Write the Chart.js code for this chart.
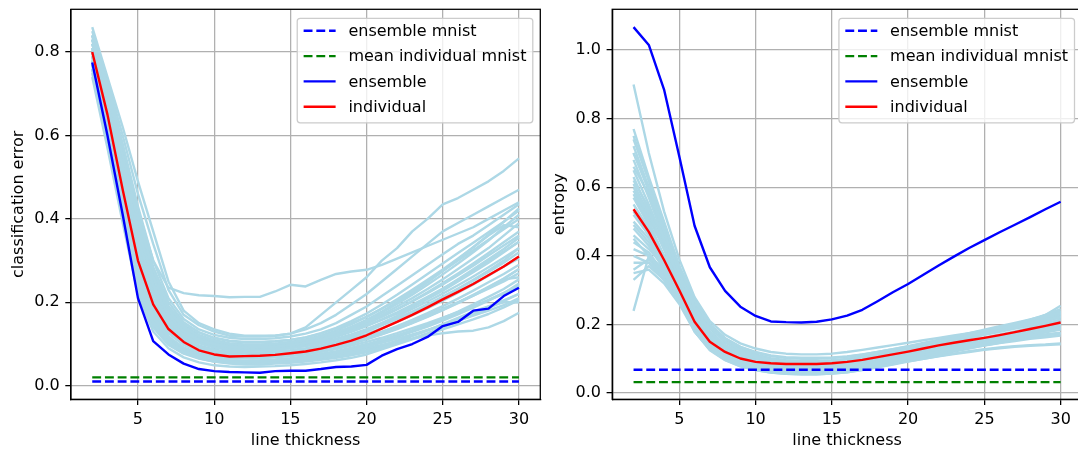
<!DOCTYPE html>
<html>
<head>
<meta charset="utf-8">
<script src="https://cdn.jsdelivr.net/npm/chart.js@4"></script>
<style>
  html, body { margin: 0; padding: 0; background: #fff; overflow: hidden; width: 1078px; height: 450px; }
  #left { position: absolute; left: 0; top: 0; }
  #right { position: absolute; left: 545px; top: 0; }
</style>
</head>
<body>
<canvas id="left" width="545" height="450"></canvas>
<canvas id="right" width="545" height="450"></canvas>
<script>
// x values (line thickness) and tick labels
const thickness = [2,3,4,5,6,7,8,9,10,11,12,13,14,15,16,17,18,19,20,21,22,23,24,25,26,27,28,29,30];
const mnistRange = [2, 30];
const xTicks = [5, 10, 15, 20, 25, 30];
const errorTicks = [0, 0.2, 0.4, 0.6, 0.8];
const entropyTicks = [0, 0.2, 0.4, 0.6, 0.8, 1.0];

// left panel: classification error
const errorEnsembleMnist = [0.01, 0.01];
const errorIndividualMnist = [0.02, 0.02];
const errorEnsemble = [0.775,0.60,0.41,0.21,0.107,0.075,0.053,0.040,0.035,0.033,0.032,0.031,0.035,0.036,0.036,0.040,0.045,0.046,0.050,0.072,0.088,0.100,0.117,0.143,0.153,0.180,0.185,0.215,0.235];
const errorIndividual = [0.80,0.65,0.47,0.30,0.195,0.136,0.105,0.085,0.075,0.070,0.071,0.072,0.074,0.078,0.082,0.089,0.098,0.108,0.121,0.137,0.153,0.170,0.188,0.207,0.225,0.244,0.265,0.286,0.310];
const errorModels = [
  [0.83,0.72,0.58,0.43,0.30,0.235,0.222,0.217,0.215,0.212,0.213,0.213,0.226,0.242,0.238,0.254,0.268,0.274,0.278,0.29,0.305,0.32,0.335,0.35,0.365,0.38,0.40,0.42,0.44],
  [0.86,0.74,0.62,0.49,0.37,0.25,0.18,0.15,0.135,0.125,0.12,0.12,0.12,0.125,0.14,0.17,0.20,0.23,0.26,0.30,0.33,0.37,0.40,0.435,0.45,0.47,0.49,0.515,0.545],
  [0.85,0.73,0.60,0.46,0.34,0.23,0.17,0.145,0.13,0.12,0.118,0.118,0.12,0.125,0.135,0.15,0.17,0.195,0.22,0.25,0.28,0.31,0.34,0.37,0.39,0.41,0.43,0.45,0.47],
  [0.84,0.71,0.57,0.42,0.30,0.21,0.16,0.135,0.122,0.115,0.112,0.112,0.114,0.118,0.125,0.135,0.15,0.17,0.19,0.215,0.24,0.265,0.29,0.315,0.34,0.36,0.385,0.41,0.435],
  [0.83,0.70,0.55,0.40,0.28,0.19,0.15,0.128,0.115,0.108,0.105,0.105,0.107,0.11,0.116,0.125,0.137,0.15,0.165,0.185,0.205,0.225,0.25,0.275,0.3,0.325,0.35,0.375,0.40],
  [0.82,0.68,0.53,0.37,0.26,0.18,0.14,0.12,0.108,0.1,0.098,0.098,0.1,0.104,0.11,0.118,0.128,0.14,0.155,0.17,0.19,0.21,0.232,0.255,0.28,0.305,0.33,0.36,0.39],
  [0.81,0.67,0.51,0.35,0.24,0.17,0.13,0.11,0.099,0.093,0.091,0.092,0.094,0.098,0.103,0.11,0.12,0.131,0.144,0.158,0.173,0.19,0.208,0.228,0.25,0.272,0.295,0.32,0.345],
  [0.80,0.66,0.49,0.33,0.22,0.155,0.12,0.102,0.092,0.086,0.084,0.085,0.087,0.09,0.095,0.102,0.111,0.121,0.133,0.147,0.162,0.178,0.195,0.213,0.232,0.252,0.273,0.295,0.32],
  [0.80,0.65,0.48,0.31,0.205,0.145,0.112,0.095,0.085,0.08,0.079,0.08,0.082,0.085,0.09,0.097,0.106,0.117,0.13,0.145,0.16,0.176,0.194,0.213,0.233,0.254,0.276,0.3,0.33],
  [0.79,0.64,0.46,0.29,0.19,0.135,0.105,0.089,0.08,0.075,0.074,0.075,0.077,0.08,0.084,0.09,0.098,0.107,0.117,0.129,0.142,0.156,0.17,0.185,0.2,0.216,0.233,0.25,0.27],
  [0.78,0.62,0.44,0.27,0.175,0.125,0.098,0.083,0.074,0.07,0.069,0.07,0.072,0.075,0.079,0.085,0.093,0.102,0.112,0.124,0.137,0.151,0.166,0.182,0.199,0.217,0.236,0.256,0.28],
  [0.77,0.61,0.43,0.26,0.165,0.117,0.092,0.078,0.07,0.066,0.065,0.066,0.068,0.071,0.075,0.081,0.088,0.096,0.105,0.115,0.126,0.138,0.15,0.163,0.176,0.19,0.205,0.22,0.235],
  [0.76,0.59,0.41,0.24,0.15,0.105,0.082,0.07,0.063,0.059,0.058,0.059,0.061,0.064,0.068,0.073,0.079,0.086,0.094,0.103,0.113,0.123,0.134,0.145,0.156,0.168,0.18,0.193,0.21],
  [0.75,0.58,0.40,0.23,0.14,0.098,0.077,0.065,0.058,0.055,0.055,0.056,0.058,0.061,0.064,0.069,0.075,0.082,0.09,0.098,0.106,0.113,0.12,0.126,0.13,0.132,0.14,0.155,0.175],
  [0.74,0.57,0.39,0.22,0.13,0.09,0.068,0.056,0.049,0.046,0.045,0.046,0.047,0.049,0.052,0.056,0.061,0.067,0.075,0.087,0.099,0.111,0.123,0.135,0.147,0.159,0.172,0.188,0.205],
  [0.76,0.60,0.42,0.25,0.155,0.108,0.084,0.071,0.063,0.058,0.056,0.056,0.058,0.06,0.063,0.067,0.072,0.078,0.085,0.096,0.108,0.12,0.133,0.146,0.16,0.175,0.19,0.205,0.22],
  [0.82,0.69,0.53,0.36,0.245,0.17,0.132,0.112,0.1,0.094,0.092,0.093,0.095,0.099,0.105,0.113,0.123,0.135,0.149,0.165,0.183,0.202,0.222,0.243,0.265,0.288,0.312,0.336,0.36],
  [0.83,0.70,0.54,0.38,0.265,0.185,0.142,0.12,0.107,0.1,0.097,0.097,0.099,0.103,0.108,0.116,0.127,0.14,0.156,0.175,0.196,0.218,0.242,0.267,0.293,0.32,0.348,0.38,0.41],
  [0.81,0.66,0.50,0.34,0.23,0.162,0.125,0.106,0.095,0.089,0.087,0.088,0.09,0.093,0.098,0.104,0.112,0.122,0.133,0.146,0.16,0.175,0.191,0.208,0.226,0.245,0.265,0.286,0.31],
  [0.79,0.63,0.45,0.28,0.18,0.13,0.1,0.085,0.077,0.072,0.071,0.072,0.074,0.077,0.081,0.087,0.094,0.103,0.113,0.125,0.138,0.152,0.167,0.183,0.2,0.218,0.237,0.257,0.28],
  [0.84,0.72,0.57,0.41,0.285,0.2,0.152,0.128,0.114,0.107,0.104,0.104,0.106,0.11,0.116,0.126,0.139,0.155,0.173,0.195,0.218,0.243,0.268,0.293,0.318,0.343,0.368,0.393,0.42],
  [0.78,0.63,0.45,0.27,0.17,0.118,0.09,0.075,0.066,0.061,0.06,0.061,0.063,0.066,0.07,0.076,0.083,0.091,0.1,0.11,0.121,0.133,0.146,0.16,0.175,0.19,0.206,0.223,0.24],
  [0.77,0.60,0.42,0.25,0.158,0.11,0.085,0.072,0.064,0.06,0.059,0.06,0.062,0.065,0.069,0.074,0.081,0.089,0.098,0.108,0.12,0.133,0.147,0.162,0.178,0.195,0.213,0.232,0.255],
  [0.79,0.64,0.47,0.30,0.195,0.138,0.107,0.09,0.08,0.075,0.073,0.073,0.075,0.078,0.082,0.088,0.096,0.105,0.116,0.129,0.143,0.158,0.174,0.191,0.209,0.228,0.248,0.268,0.29],
  [0.80,0.66,0.49,0.32,0.21,0.15,0.116,0.097,0.087,0.081,0.079,0.079,0.081,0.084,0.088,0.094,0.102,0.112,0.124,0.138,0.153,0.169,0.186,0.204,0.223,0.243,0.264,0.286,0.305],
  [0.81,0.67,0.51,0.34,0.225,0.158,0.122,0.103,0.092,0.086,0.084,0.085,0.087,0.091,0.096,0.103,0.112,0.123,0.136,0.151,0.167,0.184,0.202,0.221,0.241,0.262,0.284,0.307,0.33],
  [0.82,0.69,0.53,0.37,0.25,0.175,0.135,0.113,0.101,0.095,0.093,0.094,0.096,0.1,0.106,0.114,0.124,0.136,0.15,0.166,0.184,0.203,0.224,0.246,0.269,0.293,0.318,0.344,0.37],
  [0.78,0.62,0.44,0.26,0.165,0.115,0.088,0.073,0.064,0.059,0.057,0.057,0.059,0.062,0.066,0.072,0.079,0.087,0.096,0.106,0.117,0.129,0.142,0.156,0.171,0.187,0.204,0.222,0.245],
  [0.76,0.59,0.41,0.24,0.145,0.1,0.078,0.066,0.058,0.053,0.051,0.051,0.053,0.055,0.058,0.062,0.067,0.073,0.08,0.09,0.101,0.113,0.126,0.14,0.155,0.17,0.186,0.203,0.22],
  [0.83,0.71,0.56,0.40,0.275,0.19,0.145,0.122,0.109,0.102,0.099,0.099,0.101,0.105,0.111,0.12,0.132,0.147,0.165,0.185,0.207,0.23,0.254,0.279,0.305,0.332,0.36,0.385,0.38],
  [0.80,0.65,0.48,0.31,0.2,0.14,0.108,0.091,0.082,0.077,0.076,0.077,0.079,0.082,0.087,0.094,0.104,0.116,0.131,0.148,0.167,0.188,0.21,0.232,0.255,0.279,0.303,0.328,0.355],
  [0.79,0.63,0.46,0.29,0.185,0.13,0.1,0.084,0.075,0.07,0.068,0.068,0.07,0.073,0.077,0.083,0.091,0.1,0.111,0.123,0.136,0.15,0.165,0.181,0.198,0.216,0.235,0.255,0.26],
  [0.77,0.61,0.43,0.255,0.16,0.112,0.086,0.072,0.063,0.058,0.056,0.056,0.057,0.059,0.062,0.066,0.071,0.077,0.084,0.094,0.106,0.119,0.133,0.148,0.163,0.178,0.19,0.2,0.2],
  [0.84,0.70,0.55,0.39,0.27,0.185,0.14,0.117,0.104,0.097,0.094,0.094,0.096,0.1,0.106,0.115,0.127,0.141,0.158,0.178,0.2,0.223,0.248,0.275,0.303,0.332,0.362,0.393,0.425],
  [0.81,0.68,0.52,0.36,0.24,0.168,0.128,0.108,0.096,0.09,0.088,0.089,0.091,0.095,0.1,0.107,0.117,0.129,0.143,0.159,0.176,0.194,0.213,0.233,0.254,0.276,0.299,0.322,0.345]
];

// right panel: entropy
const entropyEnsembleMnist = [0.068, 0.068];
const entropyIndividualMnist = [0.032, 0.032];
const entropyEnsemble = [1.067,1.015,0.885,0.69,0.488,0.367,0.298,0.252,0.225,0.209,0.207,0.206,0.208,0.215,0.226,0.243,0.268,0.294,0.318,0.345,0.372,0.398,0.423,0.446,0.469,0.491,0.513,0.536,0.558];
const entropyIndividual = [0.536,0.470,0.388,0.300,0.208,0.150,0.120,0.101,0.091,0.087,0.085,0.085,0.085,0.087,0.091,0.097,0.105,0.113,0.121,0.130,0.139,0.147,0.154,0.161,0.169,0.178,0.187,0.196,0.206];
const entropyModels = [
  [0.90,0.70,0.53,0.39,0.28,0.21,0.17,0.145,0.13,0.12,0.115,0.113,0.113,0.115,0.12,0.126,0.133,0.14,0.147,0.154,0.161,0.168,0.175,0.182,0.19,0.198,0.206,0.214,0.222],
  [0.77,0.63,0.50,0.37,0.27,0.20,0.16,0.135,0.12,0.11,0.105,0.103,0.103,0.104,0.107,0.113,0.12,0.128,0.136,0.144,0.152,0.16,0.168,0.176,0.184,0.192,0.2,0.21,0.225],
  [0.24,0.40,0.35,0.28,0.20,0.145,0.115,0.095,0.083,0.075,0.071,0.069,0.069,0.07,0.073,0.079,0.087,0.095,0.103,0.112,0.121,0.13,0.138,0.146,0.153,0.161,0.169,0.177,0.185],
  [0.72,0.60,0.47,0.35,0.25,0.18,0.14,0.118,0.104,0.096,0.092,0.09,0.09,0.092,0.096,0.102,0.11,0.119,0.128,0.137,0.146,0.155,0.164,0.173,0.182,0.191,0.2,0.21,0.22],
  [0.68,0.57,0.45,0.33,0.23,0.165,0.13,0.108,0.094,0.086,0.082,0.08,0.08,0.082,0.086,0.092,0.1,0.108,0.117,0.126,0.135,0.144,0.153,0.162,0.171,0.18,0.19,0.2,0.21],
  [0.63,0.53,0.42,0.31,0.21,0.15,0.118,0.098,0.085,0.078,0.074,0.072,0.072,0.074,0.078,0.084,0.091,0.099,0.108,0.117,0.126,0.135,0.144,0.153,0.162,0.171,0.18,0.19,0.2],
  [0.58,0.50,0.40,0.30,0.205,0.145,0.112,0.092,0.08,0.072,0.068,0.066,0.066,0.068,0.072,0.078,0.086,0.095,0.104,0.113,0.122,0.131,0.14,0.149,0.158,0.166,0.174,0.182,0.19],
  [0.53,0.46,0.38,0.29,0.19,0.135,0.104,0.086,0.074,0.066,0.062,0.06,0.06,0.062,0.066,0.072,0.08,0.088,0.097,0.106,0.115,0.124,0.133,0.142,0.15,0.157,0.164,0.17,0.175],
  [0.48,0.43,0.36,0.28,0.18,0.125,0.096,0.078,0.067,0.06,0.056,0.055,0.055,0.057,0.061,0.067,0.075,0.083,0.092,0.1,0.108,0.115,0.122,0.128,0.133,0.137,0.14,0.142,0.145],
  [0.44,0.41,0.35,0.28,0.19,0.13,0.1,0.082,0.07,0.063,0.059,0.058,0.058,0.06,0.064,0.07,0.078,0.087,0.096,0.105,0.114,0.123,0.131,0.139,0.146,0.152,0.158,0.163,0.168],
  [0.40,0.38,0.33,0.27,0.185,0.13,0.1,0.083,0.072,0.065,0.061,0.06,0.06,0.062,0.066,0.073,0.081,0.09,0.1,0.11,0.12,0.13,0.14,0.15,0.16,0.17,0.18,0.19,0.2],
  [0.36,0.39,0.34,0.28,0.2,0.14,0.108,0.09,0.078,0.07,0.066,0.064,0.064,0.066,0.07,0.077,0.085,0.094,0.103,0.113,0.123,0.133,0.143,0.153,0.163,0.173,0.183,0.193,0.205],
  [0.33,0.37,0.33,0.27,0.19,0.135,0.105,0.088,0.077,0.07,0.067,0.066,0.066,0.068,0.072,0.078,0.086,0.095,0.104,0.114,0.124,0.134,0.145,0.156,0.167,0.178,0.19,0.202,0.215],
  [0.66,0.58,0.47,0.36,0.27,0.2,0.16,0.135,0.118,0.108,0.102,0.1,0.1,0.102,0.106,0.112,0.12,0.128,0.137,0.146,0.155,0.164,0.173,0.182,0.192,0.202,0.214,0.228,0.245],
  [0.60,0.52,0.43,0.34,0.25,0.19,0.15,0.125,0.108,0.098,0.093,0.091,0.091,0.093,0.097,0.104,0.112,0.121,0.131,0.141,0.151,0.161,0.171,0.181,0.191,0.201,0.211,0.222,0.235],
  [0.55,0.48,0.40,0.32,0.23,0.17,0.135,0.112,0.098,0.089,0.084,0.082,0.082,0.084,0.088,0.095,0.103,0.112,0.121,0.131,0.141,0.151,0.161,0.171,0.183,0.196,0.21,0.228,0.255],
  [0.70,0.59,0.46,0.34,0.24,0.17,0.13,0.108,0.094,0.085,0.08,0.078,0.078,0.08,0.085,0.093,0.102,0.112,0.122,0.132,0.142,0.152,0.162,0.172,0.182,0.19,0.197,0.203,0.21],
  [0.50,0.45,0.38,0.30,0.21,0.15,0.115,0.094,0.081,0.073,0.069,0.067,0.067,0.069,0.072,0.076,0.081,0.087,0.093,0.1,0.107,0.114,0.12,0.126,0.131,0.135,0.138,0.14,0.142],
  [0.42,0.40,0.36,0.29,0.2,0.145,0.11,0.09,0.077,0.069,0.064,0.062,0.062,0.064,0.068,0.074,0.082,0.091,0.1,0.109,0.118,0.127,0.136,0.145,0.153,0.16,0.166,0.171,0.176],
  [0.75,0.62,0.48,0.36,0.26,0.19,0.15,0.125,0.11,0.1,0.095,0.093,0.093,0.095,0.1,0.107,0.115,0.124,0.133,0.142,0.151,0.16,0.17,0.18,0.19,0.2,0.21,0.22,0.23],
  [0.65,0.55,0.44,0.33,0.235,0.17,0.133,0.11,0.096,0.088,0.083,0.081,0.081,0.083,0.087,0.094,0.103,0.113,0.123,0.133,0.143,0.153,0.163,0.173,0.183,0.193,0.203,0.213,0.224],
  [0.57,0.49,0.40,0.31,0.22,0.158,0.123,0.102,0.088,0.08,0.076,0.074,0.074,0.076,0.08,0.087,0.095,0.104,0.113,0.122,0.131,0.14,0.149,0.158,0.167,0.176,0.186,0.196,0.207],
  [0.52,0.46,0.39,0.30,0.21,0.15,0.116,0.096,0.083,0.075,0.071,0.069,0.069,0.071,0.075,0.082,0.09,0.099,0.108,0.117,0.126,0.135,0.144,0.153,0.161,0.169,0.177,0.185,0.193],
  [0.46,0.42,0.37,0.29,0.2,0.143,0.11,0.09,0.078,0.07,0.066,0.064,0.064,0.066,0.07,0.077,0.085,0.094,0.103,0.112,0.121,0.13,0.139,0.148,0.157,0.165,0.173,0.18,0.187],
  [0.38,0.38,0.34,0.28,0.195,0.138,0.106,0.087,0.075,0.067,0.063,0.061,0.061,0.063,0.067,0.074,0.082,0.091,0.1,0.11,0.12,0.13,0.14,0.15,0.159,0.168,0.177,0.186,0.195],
  [0.62,0.54,0.44,0.34,0.245,0.18,0.14,0.116,0.1,0.091,0.086,0.084,0.084,0.086,0.09,0.097,0.106,0.116,0.126,0.136,0.146,0.156,0.166,0.176,0.186,0.196,0.206,0.217,0.23],
  [0.70,0.60,0.48,0.36,0.26,0.19,0.148,0.122,0.106,0.096,0.09,0.088,0.088,0.09,0.095,0.102,0.111,0.121,0.131,0.141,0.151,0.161,0.171,0.181,0.191,0.201,0.211,0.221,0.232],
  [0.45,0.40,0.34,0.27,0.18,0.127,0.097,0.079,0.067,0.06,0.056,0.055,0.055,0.057,0.061,0.068,0.076,0.085,0.094,0.103,0.112,0.121,0.13,0.139,0.147,0.155,0.162,0.168,0.174],
  [0.59,0.51,0.42,0.33,0.24,0.175,0.137,0.113,0.098,0.089,0.084,0.082,0.082,0.084,0.088,0.095,0.104,0.114,0.124,0.134,0.145,0.156,0.167,0.178,0.189,0.2,0.211,0.223,0.237],
  [0.35,0.36,0.32,0.26,0.18,0.128,0.098,0.081,0.07,0.063,0.059,0.058,0.058,0.06,0.064,0.071,0.079,0.088,0.097,0.106,0.115,0.124,0.133,0.142,0.151,0.16,0.169,0.178,0.187],
  [0.74,0.62,0.49,0.37,0.27,0.2,0.157,0.13,0.113,0.102,0.096,0.093,0.093,0.095,0.099,0.106,0.115,0.125,0.135,0.145,0.155,0.165,0.175,0.185,0.195,0.205,0.215,0.226,0.24],
  [0.49,0.44,0.37,0.29,0.2,0.14,0.107,0.087,0.074,0.066,0.061,0.059,0.059,0.061,0.065,0.072,0.08,0.089,0.098,0.108,0.118,0.128,0.138,0.148,0.158,0.167,0.176,0.184,0.192],
  [0.61,0.52,0.42,0.32,0.225,0.162,0.126,0.104,0.09,0.082,0.077,0.075,0.075,0.077,0.081,0.088,0.097,0.107,0.118,0.129,0.14,0.15,0.16,0.17,0.179,0.188,0.197,0.205,0.213]
];

// matplotlib-ish look, 1pt = 1.6px here
const FONT = { family: "'DejaVu Sans'", size: 16 };
const LW = 2.4;
const DASH = [8.88, 3.84];
Chart.defaults.color = '#000';
Chart.defaults.font = FONT;

function pts(xs, ys) {
  return ys.map((v, i) => ({ x: xs[i], y: v }));
}

function buildDatasets(ensMnist, indMnist, ens, ind, models) {
  const sets = [
    { label: 'ensemble mnist', data: pts(mnistRange, ensMnist), borderColor: '#0000ff', borderDash: DASH, inLegend: true, order: 1 },
    { label: 'mean individual mnist', data: pts(mnistRange, indMnist), borderColor: '#008000', borderDash: DASH, inLegend: true, order: 1 },
    { label: 'ensemble', data: pts(thickness, ens), borderColor: '#0000ff', inLegend: true, order: 0 },
    { label: 'individual', data: pts(thickness, ind), borderColor: '#ff0000', inLegend: true, order: 0 }
  ];
  models.forEach((m, i) => {
    sets.push({ label: 'model ' + (i + 1), data: pts(thickness, m), borderColor: '#add8e6', order: 5 });
  });
  sets.forEach(s => {
    s.borderWidth = LW;
    s.pointRadius = 0;
    s.fill = false;
    s.tension = 0;
    s.borderCapStyle = 'butt';
    s.borderJoinStyle = 'round';
  });
  return sets;
}

// frame on all four sides + legend inside the axes, upper right
const frameAndLegend = {
  id: 'frameAndLegend',
  afterDraw(chart) {
    const ctx = chart.ctx, a = chart.chartArea;
    ctx.save();
    ctx.strokeStyle = '#000';
    ctx.lineWidth = 1.28;
    ctx.strokeRect(a.left, a.top, a.right - a.left, a.bottom - a.top);

    const items = chart.data.datasets.filter(d => d.inLegend);
    ctx.font = "16px 'DejaVu Sans'";
    const tw = Math.max(...items.map(d => ctx.measureText(d.label).width));
    const w = 6.4 + 32 + 12.8 + tw + 6.4;
    const h = 104.5;
    const x0 = a.right - 7.5 - w, y0 = a.top + 9;
    ctx.beginPath();
    ctx.roundRect(x0, y0, w, h, 3);
    ctx.fillStyle = 'rgba(255,255,255,0.8)';
    ctx.fill();
    ctx.strokeStyle = '#cccccc';
    ctx.lineWidth = 1.28;
    ctx.stroke();
    items.forEach((d, i) => {
      const y = y0 + 12.5 + i * 25.3;
      ctx.beginPath();
      ctx.setLineDash(d.borderDash || []);
      ctx.strokeStyle = d.borderColor;
      ctx.lineWidth = d.borderWidth;
      ctx.moveTo(x0 + 6.4, y);
      ctx.lineTo(x0 + 38.4, y);
      ctx.stroke();
      ctx.setLineDash([]);
      ctx.fillStyle = '#000';
      ctx.textBaseline = 'middle';
      ctx.textAlign = 'left';
      ctx.fillText(d.label, x0 + 51.2, y + 1);
    });
    ctx.restore();
  }
};

function makeChart(id, p) {
  const grid = { color: '#b0b0b0', lineWidth: 1.28, drawTicks: true, tickLength: 5.6, tickColor: '#000', tickWidth: 1.28 };
  return new Chart(document.getElementById(id), {
    type: 'line',
    data: { datasets: buildDatasets(p.ensMnist, p.indMnist, p.ens, p.ind, p.models) },
    options: {
      responsive: false,
      animation: false,
      events: [],
      layout: { padding: { top: 9.3, right: p.padRight, bottom: 0, left: 0 } },
      plugins: { legend: { display: false }, tooltip: { enabled: false } },
      scales: {
        x: {
          type: 'linear', min: 0.6, max: 31.4,
          afterBuildTicks: s => { s.ticks = xTicks.map(v => ({ value: v })); },
          afterFit: s => { s.height = 50.7; s.paddingLeft = 0; s.paddingRight = 0; },
          grid: grid,
          border: { display: true, color: '#000', width: 1.28 },
          ticks: { font: FONT, color: '#000', padding: 5.6, maxRotation: 0, autoSkip: false },
          title: { display: true, text: 'line thickness', font: FONT, color: '#000', padding: { top: 0, bottom: 0 } }
        },
        y: {
          type: 'linear', min: p.yMin, max: p.yMax,
          afterBuildTicks: s => { s.ticks = p.yTicks.map(v => ({ value: v })); },
          afterFit: s => { s.width = p.yWidth; s.paddingTop = 0; s.paddingBottom = 0; },
          grid: grid,
          border: { display: true, color: '#000', width: 1.28 },
          ticks: { font: FONT, color: '#000', padding: 5.6, callback: v => v.toFixed(1) },
          title: { display: true, text: p.yTitle, font: FONT, color: '#000', padding: { top: p.titlePad, bottom: 0 } }
        }
      }
    },
    plugins: [frameAndLegend]
  });
}

makeChart('left', {
  ensMnist: errorEnsembleMnist, indMnist: errorIndividualMnist,
  ens: errorEnsemble, ind: errorIndividual, models: errorModels,
  yMin: -0.0325, yMax: 0.9025, yTicks: errorTicks, yTitle: 'classification error',
  yWidth: 70.9, padRight: 4.7, titlePad: 9.4
});

// right axes run past the window edge (the reference is cropped there)
makeChart('right', {
  ensMnist: entropyEnsembleMnist, indMnist: entropyIndividualMnist,
  ens: entropyEnsemble, ind: entropyIndividual, models: entropyModels,
  yMin: -0.018, yMax: 1.119, yTicks: entropyTicks, yTitle: 'entropy',
  yWidth: 67.2, padRight: 8, titlePad: 5.6
});
</script>
</body>
</html>
